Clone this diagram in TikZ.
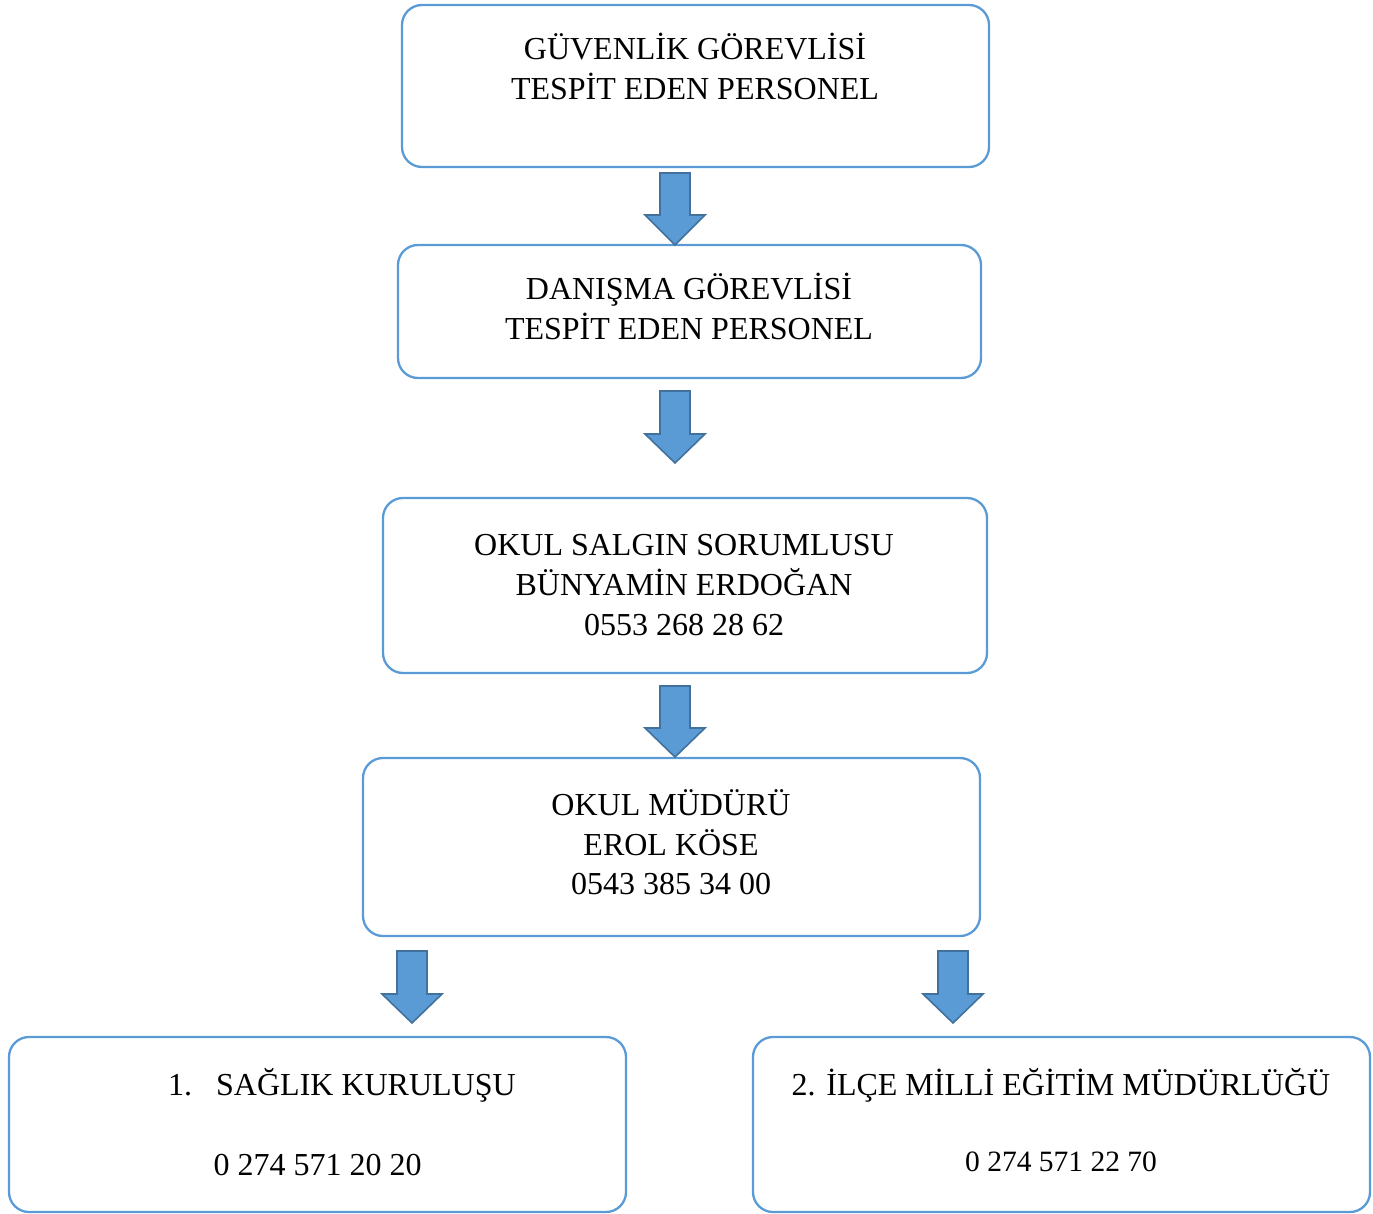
\documentclass[tikz,border=0pt]{standalone}
\usepackage{fontspec}
\setmainfont{Liberation Serif}
\definecolor{boxblue}{HTML}{5B9BD5}
\definecolor{arrowedge}{HTML}{41719C}
\begin{document}
\begin{tikzpicture}[x=1pt,y=-1pt,
  box/.style={draw=boxblue,line width=2.3pt,rounded corners=20pt},
  txt/.style={anchor=base,inner sep=0pt,font=\fontsize{32}{40}\selectfont},
  txts/.style={anchor=base,inner sep=0pt,font=\fontsize{29.5}{34}\selectfont},
  blockarrow/.style={fill=boxblue,draw=arrowedge,line width=1.6pt,line join=miter}]
\useasboundingbox (0,0) rectangle (1373,1214);
% boxes
\draw[box] (402,5) rectangle (989,167);
\draw[box] (398,245) rectangle (981,378);
\draw[box] (383,498) rectangle (987,673);
\draw[box] (363,758) rectangle (980,936);
\draw[box] (9,1037) rectangle (626,1212);
\draw[box] (753,1037) rectangle (1370,1212);
% texts
\node[txt] (t1a) at (695,60) {GÜVENLİK GÖREVLİSİ};
\node[txt] (t1b) at (695,100) {TESPİT EDEN PERSONEL};
\node[txt] (t2a) at (689,300) {DANIŞMA GÖREVLİSİ};
\node[txt] (t2b) at (689,340) {TESPİT EDEN PERSONEL};
\node[txt] (t3a) at (684,555) {OKUL SALGIN SORUMLUSU};
\node[txt] (t3b) at (684,595) {BÜNYAMİN ERDOĞAN};
\node[txt] (t3c) at (684,635) {0553 268 28 62};
\node[txt] (t4a) at (671,815) {OKUL MÜDÜRÜ};
\node[txt] (t4b) at (671,855) {EROL KÖSE};
\node[txt] (t4c) at (671,894) {0543 385 34 00};
\node[txt,anchor=base west] (t5a) at (168,1095) {1.\hspace{24pt}SAĞLIK KURULUŞU};
\node[txt] (t5b) at (317.5,1175) {0 274 571 20 20};
\node[txt] (t6a) at (1061,1095) {2. İLÇE MİLLİ EĞİTİM MÜDÜRLÜĞÜ};
\node[txts] (t6b) at (1061,1171) {0 274 571 22 70};
% block arrows
\foreach \cx/\ty/\hy/\by in {675/173/215/245, 675/391/434/463, 675/686/728/757, 412/951/994/1023, 953/951/994/1023}{
  \draw[blockarrow] (\cx-15,\ty) -- (\cx+15,\ty) -- (\cx+15,\hy) -- (\cx+30,\hy) -- (\cx,\by) -- (\cx-30,\hy) -- (\cx-15,\hy) -- cycle;
}
\end{tikzpicture}
\end{document}
